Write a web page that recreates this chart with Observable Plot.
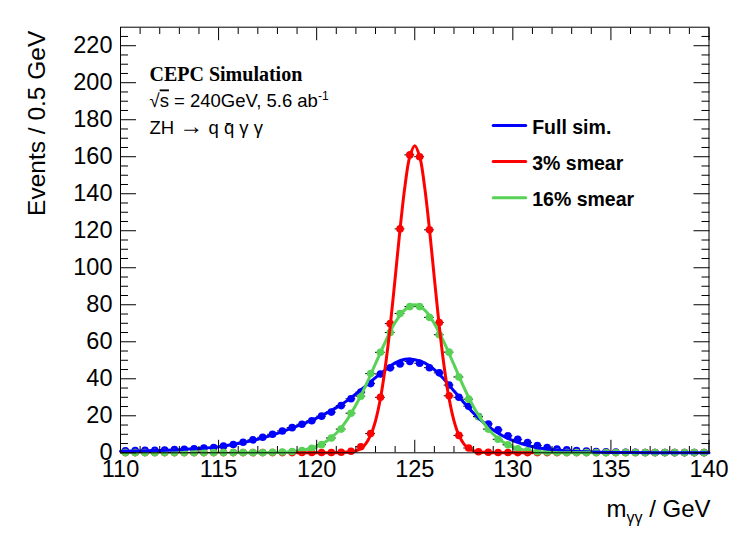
<!DOCTYPE html>
<html>
<head>
<meta charset="utf-8">
<script src="https://cdn.jsdelivr.net/npm/d3@7"></script>
<script src="https://cdn.jsdelivr.net/npm/@observablehq/plot@0.6"></script>
<style>
  html, body { margin: 0; padding: 0; background: #fff; }
</style>
</head>
<body>
<div id="chart"></div>
<script>
// ---------------- data ----------------
const binCenters = [110.25,110.75,111.25,111.75,112.25,112.75,113.25,113.75,114.25,114.75,
  115.25,115.75,116.25,116.75,117.25,117.75,118.25,118.75,119.25,119.75,
  120.25,120.75,121.25,121.75,122.25,122.75,123.25,123.75,124.25,124.75,
  125.25,125.75,126.25,126.75,127.25,127.75,128.25,128.75,129.25,129.75,
  130.25,130.75,131.25,131.75,132.25,132.75,133.25,133.75,134.25,134.75,
  135.25,135.75,136.25,136.75,137.25,137.75,138.25,138.75,139.25,139.75];

const fullSim = [1.1,1.2,1.3,1.4,1.5,1.7,1.9,2.2,2.5,2.9,
  3.6,4.5,5.7,7.0,8.4,10.0,11.8,13.6,15.4,17.3,
  19.8,22.0,25.5,29.2,32.8,37.4,42.6,45.9,48.0,49.4,
  48.4,46.0,43.2,36.6,30.0,25.2,19.6,15.6,12.4,9.2,
  7.3,5.5,3.9,2.9,2.0,1.6,1.2,0.9,0.7,0.5,
  0.4,0.3,0.3,0.2,0.2,0.2,0.1,0.1,0.1,0.1];

const smear3 = [0.1,0.1,0.1,0.1,0.1,0.1,0.1,0.1,0.1,0.1,
  0.1,0.1,0.1,0.1,0.1,0.1,0.1,0.1,0.2,0.2,
  0.2,0.2,0.3,0.8,3.3,10.4,30.0,69.8,121.0,161.0,
  160.0,120.5,70.4,30.8,9.4,2.6,0.6,0.3,0.2,0.2,
  0.1,0.1,0.1,0.1,0.1,0.1,0.1,0.1,0.1,0.1,
  0.1,0.1,0.1,0.1,0.1,0.1,0.1,0.1,0.1,0.1];

const smear16 = [0.1,0.1,0.1,0.1,0.1,0.1,0.1,0.1,0.1,0.1,
  0.1,0.1,0.2,0.2,0.2,0.3,0.4,0.7,1.2,2.4,
  4.4,8.0,12.8,21.4,30.6,42.8,54.3,65.0,75.3,79.0,
  79.0,73.2,63.8,54.4,41.0,29.0,19.5,12.8,7.3,4.3,
  2.1,1.1,0.6,0.4,0.3,0.2,0.2,0.1,0.1,0.1,
  0.1,0.1,0.1,0.1,0.1,0.1,0.1,0.1,0.1,0.1];

// fitted curves
const fullFitX = [110,111,112,113,114,115,116,117,118,119,120,120.5,121,121.5,122,122.5,123,123.5,124,124.5,125,125.5,126,126.5,127,127.5,128,128.5,129,129.5,130,130.5,131,131.5,132,133,134,135,136,138,140];
const fullFitY = [0.9,1.0,1.3,1.7,2.3,3.2,5.0,7.3,10.5,14.4,18.8,21.4,24.4,27.8,31.8,36.2,40.6,44.8,48.6,50.6,50.3,48.6,45.0,39.6,33.4,27.2,21.4,16.4,12.3,9.1,6.6,4.7,3.3,2.3,1.6,0.8,0.4,0.2,0.1,0.05,0.02];

const smear3FitX = [119,120,121,121.5,121.75,122,122.25,122.5,122.75,123,123.25,123.5,123.75,124,124.25,124.5,124.75,125,125.25,125.5,125.75,126,126.25,126.5,126.75,127,127.25,127.5,127.75,128,128.25,128.5,129,130,131];
const smear3FitY = [0,0,0.05,0.3,0.5,1.0,2.3,4.8,9.5,17.3,29.3,46.5,68.5,94.3,120.8,144,160.2,166,160.2,144,120.8,94.3,68.5,46.5,29.3,17.3,9.5,4.8,2.3,1.0,0.5,0.3,0.05,0,0];

const smear16FitX = [116,117,118,118.5,119,119.5,120,120.5,121,121.5,122,122.5,123,123.5,124,124.5,125,125.5,126,126.5,127,127.5,128,128.5,129,129.5,130,130.5,131,131.5,132,133,134];
const smear16FitY = [0.01,0.05,0.2,0.4,1.0,1.8,3.4,6.2,10.6,17.0,25.8,36.3,48.2,60.0,70.4,77.3,80.0,77.2,69.8,59.5,47.6,35.5,24.8,16.3,10.0,5.8,3.2,1.7,0.8,0.4,0.2,0.05,0];

const seriesNames = ["Full sim.", "3% smear", "16% smear"];

const xMajorTicks = [110,115,120,125,130,135,140];
const xMinorTicks = [111,112,113,114,116,117,118,119,121,122,123,124,126,127,128,129,131,132,133,134,136,137,138,139];
const yMajorTicks = [0,20,40,60,80,100,120,140,160,180,200,220];
const yMinorTicks = [5,10,15,25,30,35,45,50,55,65,70,75,85,90,95,105,110,115,125,130,135,145,150,155,165,170,175,185,190,195,205,210,215,225];

const headerLines = ["CEPC Simulation", "√s = 240GeV, 5.6 ab-1", "ZH → q q̄ γ γ"];
const yTitle = "Events / 0.5 GeV";
const xTitleParts = ["m", "γγ", " / GeV"];

// ---------------- styles ----------------
const colors = ["#0000ff", "#ff0000", "#57d257"];
const sans = "'Liberation Sans', Arial, Helvetica, sans-serif";
const serif = "'Liberation Serif', 'Times New Roman', Times, serif";

const halfBin = (binCenters[1] - binCenters[0]) / 2;
const rows = (vals) => binCenters.map((x, i) => ({x, y: vals[i]}));
const fitRows = (xs, ys) => xs.map((x, i) => ({x, y: ys[i]}));

const pointSets = [rows(fullSim), rows(smear3), rows(smear16)];
const fitSets = [fitRows(fullFitX, fullFitY), fitRows(smear3FitX, smear3FitY), fitRows(smear16FitX, smear16FitY)];

const hLine = {draw(ctx, l) { ctx.moveTo(0, 0); ctx.lineTo(0, -l); }};

const marks = [];
// points with horizontal bin-width bars
pointSets.forEach((pts, k) => {
  marks.push(Plot.ruleY(pts, {y: "y", x1: d => d.x - halfBin, x2: d => d.x + halfBin, stroke: "black", strokeWidth: 1}));
  marks.push(Plot.dot(pts, {x: "x", y: "y", r: 3.8, fill: colors[k], stroke: "none"}));
});
// fit lines: blue, green, red (red on top)
[0, 2, 1].forEach(k => {
  marks.push(Plot.line(fitSets[k], {x: "x", y: "y", stroke: colors[k], strokeWidth: 3, curve: "catmull-rom"}));
});

// frame + inward ticks on all four sides
marks.push(Plot.frame({stroke: "black", strokeWidth: 1}));
marks.push(Plot.axisX(xMajorTicks, {anchor: "bottom", tickSize: -12.5, fill: "none", label: null}));
marks.push(Plot.axisX(xMinorTicks, {anchor: "bottom", tickSize: -6.3, fill: "none", label: null}));
marks.push(Plot.axisX(xMajorTicks, {anchor: "top", tickSize: -12.5, fill: "none", label: null}));
marks.push(Plot.axisX(xMinorTicks, {anchor: "top", tickSize: -6.3, fill: "none", label: null}));
marks.push(Plot.axisY(yMajorTicks, {anchor: "left", tickSize: -16, fill: "none", label: null}));
marks.push(Plot.axisY(yMinorTicks, {anchor: "left", tickSize: -8, fill: "none", label: null}));
marks.push(Plot.axisY(yMajorTicks, {anchor: "right", tickSize: -16, fill: "none", label: null}));
marks.push(Plot.axisY(yMinorTicks, {anchor: "right", tickSize: -8, fill: "none", label: null}));
// tick labels
marks.push(Plot.axisX(xMajorTicks, {anchor: "bottom", tickSize: 0, tickPadding: 8, fontSize: 23.5, fontFamily: sans, fill: "black", label: null}));
marks.push(Plot.axisY(yMajorTicks, {anchor: "left", tickSize: 0, tickPadding: 8, fontSize: 23.5, fontFamily: sans, fill: "black", label: null}));

// axis titles
marks.push(Plot.text([yTitle], {text: d => d, frameAnchor: "top-left", rotate: -90, textAnchor: "end", lineAnchor: "middle", dx: -83, dy: 3.5, fontSize: 24.5, fontFamily: sans, fill: "black"}));
marks.push(Plot.text([xTitleParts.join("")], {text: d => d, frameAnchor: "bottom-right", textAnchor: "end", lineAnchor: "middle", dx: 1.5, dy: 57, fontSize: 24, fontFamily: sans, fill: "black"}));

// header text
marks.push(Plot.text([headerLines[0]], {text: d => d, frameAnchor: "top-left", textAnchor: "start", lineAnchor: "middle", dx: 29, dy: 47.3, fontSize: 20, fontWeight: "bold", fontFamily: serif, fill: "black"}));
marks.push(Plot.text([headerLines[1]], {text: d => d, frameAnchor: "top-left", textAnchor: "start", lineAnchor: "middle", dx: 29, dy: 74.3, fontSize: 18.5, fontFamily: sans, fill: "black"}));
marks.push(Plot.text([headerLines[2]], {text: d => d, frameAnchor: "top-left", textAnchor: "start", lineAnchor: "middle", dx: 29, dy: 101.3, fontSize: 18.5, fontFamily: sans, fill: "black"}));

// legend
seriesNames.forEach((name, k) => {
  marks.push(Plot.vector([name], {frameAnchor: "top-left", dx: 372.7, dy: 98.3 + 36.1 * k, rotate: 90, length: 32.5, anchor: "start", shape: hLine, stroke: colors[k], strokeWidth: 3, fill: "none"}));
  marks.push(Plot.text([name], {text: d => d, frameAnchor: "top-left", textAnchor: "start", lineAnchor: "middle", dx: 411.7, dy: 100.3 + 36.1 * k, fontSize: 19.5, fontWeight: "bold", fontFamily: sans, fill: "black"}));
});

const chart = Plot.plot({
  width: 747,
  height: 539,
  marginLeft: 120,
  marginRight: 38.5,
  marginTop: 26.7,
  marginBottom: 86.7,
  x: {type: "linear", domain: [110, 140]},
  y: {type: "linear", domain: [0, 230]},
  style: {background: "white", fontFamily: sans, color: "black", overflow: "visible"},
  marks
});
document.getElementById("chart").append(chart);

// rich text: subscripts / superscripts / overbars
const NS = "http://www.w3.org/2000/svg";
const span = (txt, attrs = {}) => {
  const e = document.createElementNS(NS, "tspan");
  e.textContent = txt;
  for (const [k, v] of Object.entries(attrs)) e.setAttribute(k, v);
  return e;
};
chart.querySelectorAll("text").forEach(t => {
  const s = t.textContent;
  if (s === xTitleParts.join("")) {
    t.textContent = "";
    t.append(span(xTitleParts[0]), span(xTitleParts[1], {"font-size": 16, dy: 6}), span(xTitleParts[2], {dy: -6}));
  } else if (s === headerLines[1]) {
    const body = s.slice(0, -2);
    t.textContent = "";
    t.append(span(body.slice(0, 1)), span(body.slice(1, 2), {style: "text-decoration: overline"}), span(body.slice(2)),
             span(s.slice(-2), {"font-size": 12, dy: -7}));
  } else if (s === headerLines[2]) {
    const parts = s.split("→");
    t.textContent = "";
    t.append(span(parts[0]), span("→", {"font-size": 24}), span(parts[1], {"font-size": 18.5}));
  }
});
</script>
</body>
</html>
